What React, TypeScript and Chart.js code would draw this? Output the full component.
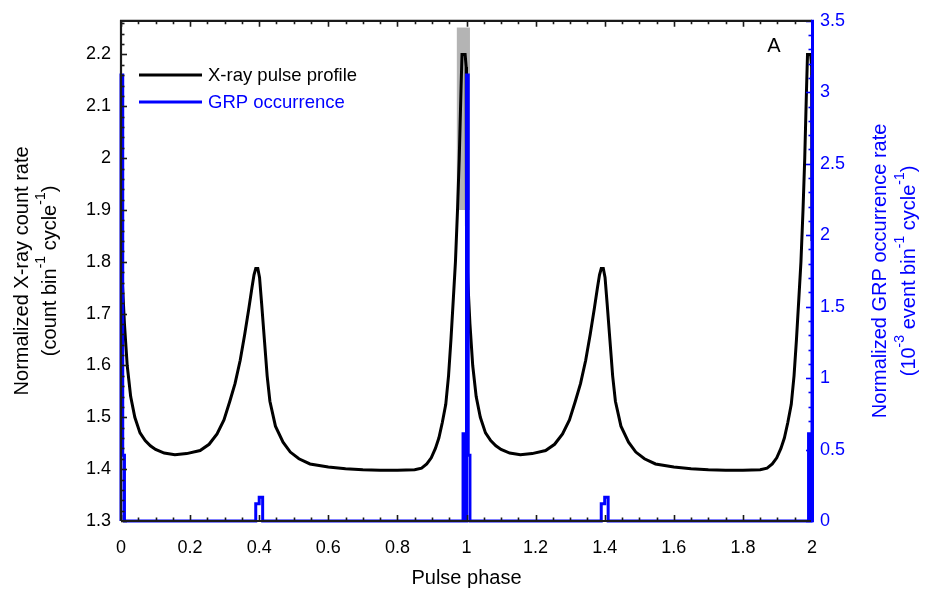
import React, { useEffect, useRef } from 'react';
import { Chart, registerables } from 'chart.js';

Chart.register(...registerables);

const FONT = '"Liberation Sans", Arial, Helvetica, sans-serif';

// ---- axis ticks ----
const xTicks = [0, 0.2, 0.4, 0.6, 0.8, 1, 1.2, 1.4, 1.6, 1.8, 2];
const leftTicks = [1.3, 1.4, 1.5, 1.6, 1.7, 1.8, 1.9, 2, 2.1, 2.2];
const rightTicks = [0, 0.5, 1, 1.5, 2, 2.5, 3, 3.5];
const xRange = [0, 2];
const leftRange = [1.3, 2.265];
const rightRange = [0, 3.5];
const xMinorStep = 0.05;
const leftMinorStep = 0.02;
const rightMinorStep = 0.1;

// ---- folded pulse profile, one cycle (phase -> normalized X-ray rate) ----
const cycles = [0, 1];
const xrayPhase = [
  0.000, 0.004, 0.010, 0.018, 0.028, 0.040, 0.055, 0.070,
  0.085, 0.100, 0.125, 0.156, 0.190, 0.229, 0.255, 0.278, 0.298, 0.315,
  0.330, 0.345, 0.358, 0.370, 0.379, 0.385, 0.390, 0.396, 0.401, 0.407, 0.415,
  0.423, 0.431, 0.447, 0.469, 0.490, 0.515, 0.547, 0.600, 0.650, 0.700,
  0.750, 0.800, 0.850, 0.870, 0.885, 0.898, 0.910, 0.920, 0.930, 0.940,
  0.948, 0.955, 0.962, 0.968, 0.974, 0.979, 0.984, 0.987, 0.996, 0.999,
];
const xrayRate = [
  1.84, 1.76, 1.68, 1.60, 1.54, 1.50, 1.47, 1.455,
  1.445, 1.438, 1.431, 1.428, 1.430, 1.436, 1.448, 1.468, 1.495, 1.531,
  1.565, 1.61, 1.66, 1.71, 1.75, 1.775, 1.787, 1.787, 1.77, 1.72, 1.65,
  1.58, 1.531, 1.483, 1.452, 1.433, 1.42, 1.41, 1.404, 1.401, 1.399,
  1.398, 1.398, 1.399, 1.402, 1.41, 1.422, 1.44, 1.46, 1.49, 1.525,
  1.58, 1.65, 1.73, 1.80, 1.90, 2.00, 2.13, 2.20, 2.20, 2.176,
];

// ---- GRP occurrence histogram, one cycle (bin start phase -> rate, 1e-3) ----
const grpPhase = [0, 0.005, 0.010, 0.390, 0.400, 0.410, 0.990, 0.995];
const grpRate = [3.12, 0.46, 0, 0.12, 0.166, 0, 0.61, 0];

// ---- shaded phase window ----
const bandPhase = [0.972, 1.01];
const bandRate = [1.9, 2.252];

const seriesNames = ['X-ray pulse profile', 'GRP occurrence'];
const seriesColors = ['#000000', '#0000ff'];
const panelLabel = 'A';
const xTitle = 'Pulse phase';
const leftTitle1 = [{ t: 'Normalized X-ray count rate' }];
const leftTitle2 = [
  { t: '(count bin' }, { t: '-1', sup: true }, { t: ' cycle' }, { t: '-1', sup: true }, { t: ')' },
];
const rightTitle1 = [{ t: 'Normalized GRP occurrence rate' }];
const rightTitle2 = [
  { t: '(10' }, { t: '-3', sup: true }, { t: ' event bin' }, { t: '-1', sup: true },
  { t: ' cycle' }, { t: '-1', sup: true }, { t: ')' },
];

const fmt = (v: number) => String(Math.round(v * 100) / 100);

function minorValues(min: number, max: number, step: number) {
  const out: number[] = [];
  const n = Math.round((max - min) / step);
  for (let i = 0; i <= n; i++) out.push(min + i * step);
  return out;
}

function drawRich(ctx: CanvasRenderingContext2D, parts: any[], cx: number, cy: number, size: number, color: string) {
  ctx.save();
  ctx.translate(cx, cy);
  ctx.rotate(-Math.PI / 2);
  ctx.fillStyle = color;
  ctx.textBaseline = 'middle';
  ctx.textAlign = 'left';
  const big = `${size}px ${FONT}`;
  const small = `${Math.round(size * 0.7)}px ${FONT}`;
  let total = 0;
  const widths = parts.map((p) => {
    ctx.font = p.sup ? small : big;
    const w = ctx.measureText(p.t).width;
    total += w;
    return w;
  });
  let x = -total / 2;
  parts.forEach((p, i) => {
    ctx.font = p.sup ? small : big;
    ctx.fillText(p.t, x, p.sup ? -size * 0.42 : 0);
    x += widths[i];
  });
  ctx.restore();
}

const decorPlugin = {
  id: 'decor',
  beforeDatasetsDraw(chart: any) {
    const { ctx, scales } = chart;
    const x = scales.x, y = scales.y;
    const x0 = x.getPixelForValue(bandPhase[0]);
    const x1 = x.getPixelForValue(bandPhase[1]);
    const y0 = y.getPixelForValue(bandRate[1]);
    const y1 = y.getPixelForValue(bandRate[0]);
    ctx.save();
    ctx.fillStyle = '#b4b4b4';
    ctx.fillRect(x0, y0, x1 - x0, y1 - y0);
    ctx.restore();
  },
  afterDraw(chart: any) {
    const { ctx, chartArea: a, scales } = chart;
    const x = scales.x, y = scales.y, y2 = scales.y2;
    ctx.save();
    // ticks
    const majorLen = 6, minorLen = 3.5;
    ctx.lineWidth = 1.6;
    ctx.strokeStyle = '#1a1a1a';
    const xMinor = minorValues(xRange[0], xRange[1], xMinorStep);
    xMinor.forEach((v) => {
      const isMajor = xTicks.some((t) => Math.abs(t - v) < 1e-6);
      const len = isMajor ? majorLen : minorLen;
      const px = Math.round(x.getPixelForValue(v)) + 0.5;
      ctx.beginPath();
      ctx.moveTo(px, a.bottom); ctx.lineTo(px, a.bottom - len);
      ctx.moveTo(px, a.top); ctx.lineTo(px, a.top + len);
      ctx.stroke();
    });
    const yMinor = minorValues(leftRange[0], 2.26, leftMinorStep);
    yMinor.forEach((v) => {
      const isMajor = leftTicks.some((t) => Math.abs(t - v) < 1e-6);
      const len = isMajor ? majorLen : minorLen;
      const py = Math.round(y.getPixelForValue(v)) + 0.5;
      ctx.beginPath();
      ctx.moveTo(a.left, py); ctx.lineTo(a.left + len, py);
      ctx.stroke();
    });
    ctx.strokeStyle = '#0000ff';
    const rMinor = minorValues(rightRange[0], rightRange[1], rightMinorStep);
    rMinor.forEach((v) => {
      const isMajor = rightTicks.some((t) => Math.abs(t - v) < 1e-6);
      const len = isMajor ? majorLen : minorLen;
      const py = Math.round(y2.getPixelForValue(v)) + 0.5;
      ctx.beginPath();
      ctx.moveTo(a.right, py); ctx.lineTo(a.right - len, py);
      ctx.stroke();
    });
    // frame
    ctx.lineWidth = 2.2;
    ctx.strokeStyle = '#1a1a1a';
    ctx.beginPath();
    ctx.moveTo(a.left, a.bottom); ctx.lineTo(a.left, a.top); ctx.lineTo(a.right, a.top);
    ctx.moveTo(a.left, a.bottom); ctx.lineTo(a.right, a.bottom);
    ctx.stroke();
    ctx.lineWidth = 3;
    ctx.strokeStyle = '#0000ff';
    ctx.beginPath();
    ctx.moveTo(a.right + 0.5, a.top - 1); ctx.lineTo(a.right + 0.5, a.bottom + 1);
    ctx.stroke();

    // legend
    const legendY = [75, 102];
    seriesNames.forEach((name, i) => {
      ctx.strokeStyle = seriesColors[i];
      ctx.lineWidth = 3;
      ctx.beginPath();
      ctx.moveTo(139, legendY[i]); ctx.lineTo(202, legendY[i]);
      ctx.stroke();
      ctx.fillStyle = seriesColors[i];
      ctx.font = `18.5px ${FONT}`;
      ctx.textAlign = 'left';
      ctx.textBaseline = 'middle';
      ctx.fillText(name, 208, legendY[i] + 1);
    });

    // panel label
    ctx.fillStyle = '#000';
    ctx.font = `20px ${FONT}`;
    ctx.textAlign = 'center';
    ctx.textBaseline = 'middle';
    ctx.fillText(panelLabel, 774, 46);

    // x title
    ctx.font = `20px ${FONT}`;
    ctx.fillText(xTitle, (a.left + a.right) / 2, 578);
    ctx.restore();

    const midY = (a.top + a.bottom) / 2;
    drawRich(ctx, leftTitle1, 22, midY, 20, '#000');
    drawRich(ctx, leftTitle2, 50, midY, 20, '#000');
    drawRich(ctx, rightTitle1, 880, midY, 20, '#0000ff');
    drawRich(ctx, rightTitle2, 909, midY, 20, '#0000ff');
  },
};

export default function App() {
  const ref = useRef<HTMLCanvasElement | null>(null);

  useEffect(() => {
    if (!ref.current) return;
    const xrayData: { x: number; y: number }[] = [];
    cycles.forEach((c) => xrayPhase.forEach((p, i) => xrayData.push({ x: p + c, y: xrayRate[i] })));
    xrayData.push({ x: xRange[1], y: xrayRate[0] });

    const grpData: { x: number; y: number }[] = [{ x: xRange[0], y: 0 }];
    cycles.forEach((c) => grpPhase.forEach((p, i) => grpData.push({ x: p + c, y: grpRate[i] })));
    grpData.push({ x: xRange[1], y: grpRate[0] });

    const tickFont = { family: FONT, size: 18 };
    const chart = new Chart(ref.current, {
      type: 'line',
      data: {
        datasets: [
          {
            label: seriesNames[1],
            data: grpData,
            yAxisID: 'y2',
            borderColor: seriesColors[1],
            borderWidth: 3,
            pointRadius: 0,
            stepped: 'before',
            fill: false,
            clip: 3,
            order: 1,
          },
          {
            label: seriesNames[0],
            data: xrayData,
            yAxisID: 'y',
            borderColor: seriesColors[0],
            borderWidth: 3,
            pointRadius: 0,
            tension: 0,
            fill: false,
            order: 2,
          },
        ],
      },
      options: {
        animation: false,
        responsive: false,
        devicePixelRatio: 1,
        layout: { padding: { top: 15, left: 0, right: 0, bottom: 0 } },
        plugins: { legend: { display: false }, tooltip: { enabled: false } },
        scales: {
          x: {
            type: 'linear',
            min: xRange[0],
            max: xRange[1],
            afterBuildTicks: (s: any) => { s.ticks = xTicks.map((v) => ({ value: v })); },
            afterFit: (s: any) => { s.height = 69; },
            ticks: { font: tickFont, color: '#000', padding: 16, maxRotation: 0, autoSkip: false, callback: (v: any) => fmt(Number(v)) },
            grid: { display: false, drawTicks: false },
            border: { display: false },
          },
          y: {
            type: 'linear',
            position: 'left',
            min: leftRange[0],
            max: leftRange[1],
            afterBuildTicks: (s: any) => { s.ticks = leftTicks.map((v) => ({ value: v })); },
            afterFit: (s: any) => { s.width = 121; },
            ticks: { font: tickFont, color: '#000', padding: 10, autoSkip: false, callback: (v: any) => fmt(Number(v)) },
            grid: { display: false, drawTicks: false },
            border: { display: false },
          },
          y2: {
            type: 'linear',
            position: 'right',
            min: rightRange[0],
            max: rightRange[1],
            afterBuildTicks: (s: any) => { s.ticks = rightTicks.map((v) => ({ value: v })); },
            afterFit: (s: any) => { s.width = 113; },
            ticks: { font: tickFont, color: '#0000ff', padding: 8, autoSkip: false, callback: (v: any) => fmt(Number(v)) },
            grid: { display: false, drawTicks: false },
            border: { display: false },
          },
        },
      },
      plugins: [decorPlugin],
    } as any);
    return () => chart.destroy();
  }, []);

  return (
    <div style={{ position: 'absolute', left: 0, top: 0, width: 925, height: 590, background: '#fff' }}>
      <canvas ref={ref} width={925} height={590} />
    </div>
  );
}
